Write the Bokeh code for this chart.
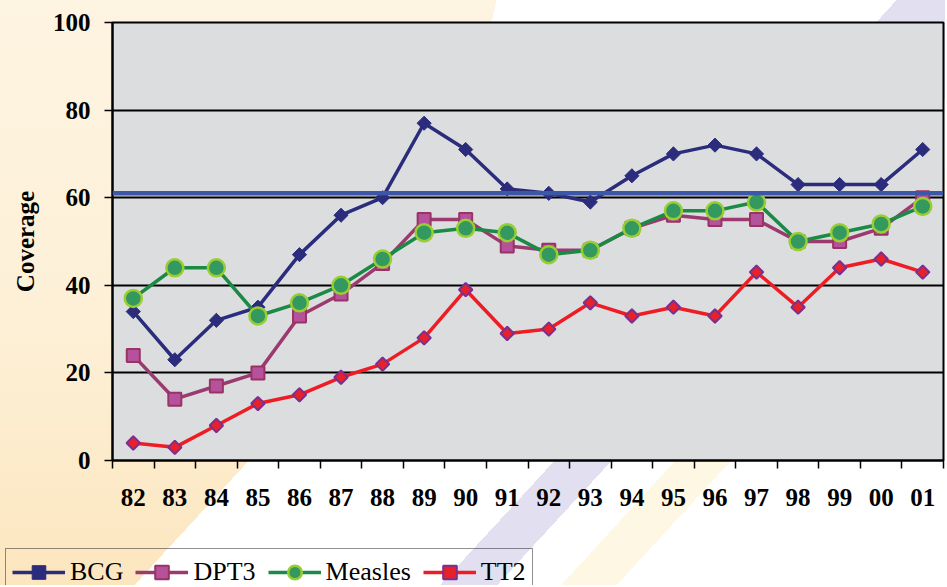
import math
from bokeh.plotting import figure
from bokeh.layouts import column
from bokeh.models import (Range1d, LinearAxis, FixedTicker, Span, Legend, LegendItem,
                          ColumnDataSource)
from bokeh.embed import file_html
from bokeh.resources import INLINE

# ---------------- data ----------------
years = ["82", "83", "84", "85", "86", "87", "88", "89", "90", "91",
         "92", "93", "94", "95", "96", "97", "98", "99", "00", "01"]
bcg = [34, 23, 32, 35, 47, 56, 60, 77, 71, 62, 61, 59, 65, 70, 72, 70, 63, 63, 63, 71]
dpt3 = [24, 14, 17, 20, 33, 38, 45, 55, 55, 49, 48, 48, 53, 56, 55, 55, 50, 50, 53, 60]
measles = [37, 44, 44, 33, 36, 40, 46, 52, 53, 52, 47, 48, 53, 57, 57, 59, 50, 52, 54, 58]
tt2 = [4, 3, 8, 13, 15, 19, 22, 28, 39, 29, 30, 36, 33, 35, 33, 43, 35, 44, 46, 43]
target = 61
y_ticks = [0, 20, 40, 60, 80, 100]
grid_ticks = [20, 40, 60, 80]
series_names = ["BCG", "DPT3", "Measles", "TT2"]

n = len(years)
centers = [i + 0.5 for i in range(n)]      # category slot centres
edges = list(range(n + 1))                 # category slot boundaries
src = ColumnDataSource(dict(x=centers, bcg=bcg, dpt3=dpt3, measles=measles, tt2=tt2))

SERIF = "Liberation Serif"
W = 945
H_CHART, H_LEG = 545, 40
PLOT_BG = "#DCDDDF"

# series styles
STY = {
    "BCG": dict(line=dict(line_color="#2B2C7B", line_width=3.5),
                mark=dict(marker="square", angle=math.pi / 4, size=10,
                          fill_color="#2B2C7B", line_color="#2B2C7B", line_width=1)),
    "DPT3": dict(line=dict(line_color="#9B3A6E", line_width=3.5),
                 mark=dict(marker="square", size=13, fill_color="#B6519C",
                           line_color="#993366", line_width=2)),
    "Measles": dict(line=dict(line_color="#1A8A45", line_width=3.5),
                    mark=dict(marker="circle", size=17, fill_color="#33995E",
                              line_color="#9ACD32", line_width=2.5)),
    "TT2": dict(line=dict(line_color="#EE1D25", line_width=3.5),
                mark=dict(marker="square", angle=math.pi / 4, size=9.5,
                          fill_color="#E8202A", line_color="#7B2F8E", line_width=2)),
}
COLS = {"BCG": "bcg", "DPT3": "dpt3", "Measles": "measles", "TT2": "tt2"}

# ---------------- chart ----------------
p = figure(width=W, height=H_CHART, output_backend="svg", toolbar_location=None,
           x_range=Range1d(0, n), y_range=Range1d(0, 100),
           x_axis_location=None, y_axis_location=None,
           min_border_left=112, min_border_right=2, min_border_top=22,
           min_border_bottom=H_CHART - 460)
p.border_fill_alpha = 0
p.background_fill_color = PLOT_BG
p.outline_line_color = "black"
p.outline_line_width = 2
p.frame_align = False

yaxis = LinearAxis(ticker=FixedTicker(ticks=y_ticks), axis_label="Coverage")
yaxis.axis_line_color = "black"
yaxis.axis_line_width = 2
yaxis.major_tick_out = 8
yaxis.major_tick_in = 0
yaxis.minor_tick_out = 0
yaxis.major_tick_line_width = 1.5
yaxis.major_label_standoff = 14
yaxis.major_label_text_font = SERIF
yaxis.major_label_text_font_style = "bold"
yaxis.major_label_text_font_size = "25px"
yaxis.major_label_text_color = "black"
yaxis.axis_label_text_font = SERIF
yaxis.axis_label_text_font_style = "bold"
yaxis.axis_label_text_font_size = "25px"
yaxis.axis_label_text_color = "black"
yaxis.axis_label_standoff = 11
p.add_layout(yaxis, "left")

xaxis = LinearAxis(ticker=FixedTicker(ticks=centers, minor_ticks=edges),
                   major_label_overrides={c: y for c, y in zip(centers, years)})
xaxis.axis_line_color = "black"
xaxis.axis_line_width = 2
xaxis.major_tick_out = 0
xaxis.major_tick_in = 0
xaxis.minor_tick_out = 8
xaxis.minor_tick_in = 0
xaxis.minor_tick_line_color = "black"
xaxis.minor_tick_line_width = 1.5
xaxis.major_label_standoff = 20
xaxis.major_label_text_font = SERIF
xaxis.major_label_text_font_style = "bold"
xaxis.major_label_text_font_size = "25px"
xaxis.major_label_text_color = "black"
p.add_layout(xaxis, "below")

p.xgrid.visible = False
p.ygrid.ticker = FixedTicker(ticks=grid_ticks)
p.ygrid.grid_line_color = "black"
p.ygrid.grid_line_width = 2

p.add_layout(Span(location=target, dimension="width", line_color="#3D57A8",
                  line_width=4.5))

for name in series_names:
    p.line("x", COLS[name], source=src, **STY[name]["line"])
    p.scatter("x", COLS[name], source=src, **STY[name]["mark"])

# ---------------- legend strip ----------------
# the strip's y range lies far away from the data, so its copies of the series
# stay out of view and only serve as legend glyphs
q = figure(width=W, height=H_LEG, output_backend="svg", toolbar_location=None,
           x_range=Range1d(0, n), y_range=Range1d(-100, -99),
           x_axis_location=None, y_axis_location=None, min_border=0)
q.border_fill_alpha = 0
q.background_fill_alpha = 0
q.outline_line_color = None
q.xgrid.visible = False
q.ygrid.visible = False
q.frame_align = False

items = []
for name in series_names:
    rl = q.line("x", COLS[name], source=src, **STY[name]["line"])
    rm = q.scatter("x", COLS[name], source=src, **STY[name]["mark"])
    items.append(LegendItem(label=name, renderers=[rl, rm]))

legend = Legend(items=items, orientation="horizontal", location=(5, -11))
legend.glyph_width = 53
legend.glyph_height = 34
legend.label_standoff = 5
legend.spacing = 12
legend.padding = 6
legend.margin = 0
legend.label_text_font = SERIF
legend.label_text_font_size = "26px"
legend.label_text_color = "black"
legend.background_fill_alpha = 0
legend.border_line_color = "#222222"
legend.border_line_width = 1.5
q.add_layout(legend, "center")

page = column(p, q, spacing=0)

# decorative slide background (CSS behind the transparent canvases)
A = "132.6deg"
page.styles = {
    "background-color": "#FFFFFF",
    "background-image": ", ".join([
        f"linear-gradient({A}, transparent 720px, #E1DFF0 720px, #E1DFF0 762px, transparent 762px)",
        f"linear-gradient({A}, transparent 809px, #FEF7E4 809px, #FEF7E4 850px, transparent 850px)",
        f"linear-gradient({A}, transparent 660px, #E1DFF0 660px)",
        f"linear-gradient({A}, transparent 495px, #FFFFFF 495px)",
        "linear-gradient(102.9deg, transparent 484px, #FFFFFF 484px)",
        "linear-gradient(to bottom, #FDF4E1 0%, #FDF0D7 55%, #FCE6BF 100%)",
    ]),
    "background-size": "100% 100%, 100% 100%, 100% 70px, 100% 100%, 100% 100%, 100% 100%",
    "background-repeat": "no-repeat",
    "background-position": "0 0",
}

open("out.html", "w").write(file_html(page, INLINE))
